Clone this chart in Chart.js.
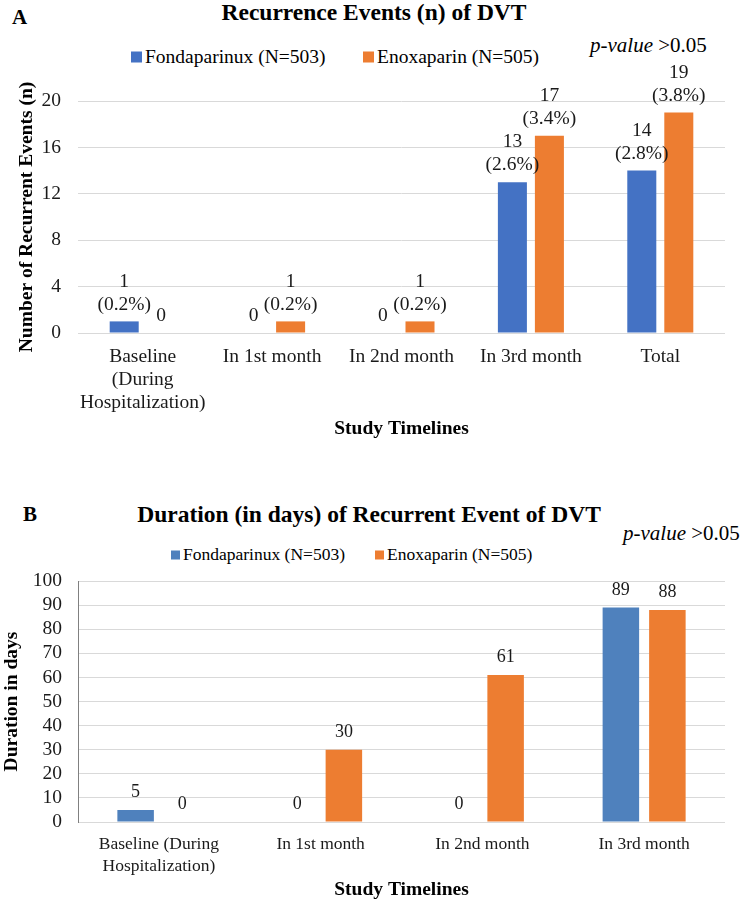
<!DOCTYPE html>
<html>
<head>
<meta charset="utf-8">
<title>Recurrent DVT events</title>
<script src="https://cdn.jsdelivr.net/npm/chart.js@4.4.1/dist/chart.umd.min.js"></script>
<style>
  body { margin: 0; background: #fff; font-family: 'Liberation Serif', 'Times New Roman', serif; color: #000; }
  #page { position: relative; width: 751px; height: 904px; overflow: hidden; }
  .txt { position: absolute; white-space: nowrap; line-height: 1; transform: translateY(-50%); }
  .mid { transform: translate(-50%, -50%); }
  .bold { font-weight: bold; }
  .sq { position: absolute; transform: translateY(-50%); }
  canvas { position: absolute; left: 0; }
</style>
</head>
<body>
<div id="page">
  <!-- panel A headings -->
  <div class="txt bold" style="left:12px; top:17px; font-size:21px;">A</div>
  <div class="txt bold mid" style="left:374px; top:13px; font-size:23.5px;">Recurrence Events (n) of DVT</div>
  <div class="txt" style="left:590px; top:45px; font-size:21px;"><i>p-value</i> &gt;0.05</div>
  <div class="sq" style="left:131px; top:57px; width:11px; height:11px; background:#4472C4;"></div>
  <div class="txt" style="left:145px; top:57px; font-size:19.5px;">Fondaparinux (N=503)</div>
  <div class="sq" style="left:363px; top:57px; width:11px; height:11px; background:#ED7D31;"></div>
  <div class="txt" style="left:377px; top:57px; font-size:19.5px;">Enoxaparin (N=505)</div>
  <canvas id="chartA" width="751" height="445" style="top:0;"></canvas>

  <!-- panel B headings -->
  <div class="txt bold" style="left:23px; top:514px; font-size:21px;">B</div>
  <div class="txt bold mid" style="left:369px; top:515px; font-size:23.5px;">Duration (in days) of Recurrent Event of DVT</div>
  <div class="txt" style="left:623px; top:533px; font-size:21px;"><i>p-value</i> &gt;0.05</div>
  <div class="sq" style="left:171px; top:555px; width:9px; height:9px; background:#4F81BD;"></div>
  <div class="txt" style="left:183px; top:555px; font-size:17.5px;">Fondaparinux (N=503)</div>
  <div class="sq" style="left:375px; top:555px; width:9px; height:9px; background:#ED7D31;"></div>
  <div class="txt" style="left:387px; top:555px; font-size:17.5px;">Enoxaparin (N=505)</div>
  <canvas id="chartB" width="751" height="444" style="top:460px;"></canvas>
</div>

<script>
// chart A: recurrence events
const timelinesA = [['Baseline', '(During', 'Hospitalization)'], 'In 1st month', 'In 2nd month', 'In 3rd month', 'Total'];
const fondaEvents = [1, 0, 0, 13, 14];
const enoxEvents = [0, 1, 1, 17, 19];
const fondaPct = ['(0.2%)', '', '', '(2.6%)', '(2.8%)'];
const enoxPct = ['', '(0.2%)', '(0.2%)', '(3.4%)', '(3.8%)'];
const ticksA = [0, 4, 8, 12, 16, 20];

// chart B: duration in days
const timelinesB = [['Baseline (During', 'Hospitalization)'], 'In 1st month', 'In 2nd month', 'In 3rd month'];
const fondaDays = [5, 0, 0, 89];
const enoxDays = [0, 30, 61, 88];
const ticksB = [0, 10, 20, 30, 40, 50, 60, 70, 80, 90, 100];

const FONT = "'Liberation Serif', 'Times New Roman', serif";
const INK = '#1a1a1a';

// draws value labels above each bar (no datalabels plugin available offline)
function barLabels(textFor, size, gap, lineH) {
    return {
        id: 'barLabels',
        afterDatasetsDraw(chart) {
            const ctx = chart.ctx;
            ctx.save();
            ctx.font = size + 'px ' + FONT;
            ctx.fillStyle = INK;
            ctx.textAlign = 'center';
            ctx.textBaseline = 'middle';
            chart.data.datasets.forEach((ds, i) => {
                chart.getDatasetMeta(i).data.forEach((bar, j) => {
                    const lines = textFor(i, j);
                    lines.forEach((t, k) => {
                        ctx.fillText(t, bar.x, bar.y - gap - (lines.length - 1 - k) * lineH);
                    });
                });
            });
            ctx.restore();
        }
    };
}

Chart.defaults.animation = false;
Chart.defaults.font.family = FONT;
Chart.defaults.color = INK;

new Chart(document.getElementById('chartA'), {
    type: 'bar',
    data: {
        labels: timelinesA,
        datasets: [
            { label: 'Fondaparinux (N=503)', data: fondaEvents, backgroundColor: '#4472C4' },
            { label: 'Enoxaparin (N=505)', data: enoxEvents, backgroundColor: '#ED7D31' }
        ]
    },
    options: {
        responsive: false,
        categoryPercentage: 0.572,
        barPercentage: 0.784,
        layout: { padding: { top: 101, right: 26, left: 0, bottom: 0 } },
        plugins: { legend: { display: false }, tooltip: { enabled: false } },
        scales: {
            x: {
                grid: { display: false, drawTicks: false },
                border: { display: false },
                ticks: { font: { size: 19.5, lineHeight: 1.18 }, color: INK, padding: 12.5, maxRotation: 0, autoSkip: false },
                title: { display: true, text: 'Study Timelines', color: '#000', font: { size: 19.5, weight: 'bold' }, padding: { top: 0, bottom: 4 } },
                afterFit: s => { s.height = 445 - 333; }
            },
            y: {
                min: ticksA[0],
                max: ticksA[ticksA.length - 1],
                ticks: { stepSize: ticksA[1] - ticksA[0], font: { size: 19.5 }, color: INK, padding: 17, autoSkip: false },
                grid: { color: '#d9d9d9', drawTicks: false },
                border: { display: false },
                title: { display: true, text: 'Number of Recurrent Events (n)', color: '#000', font: { size: 19.5, weight: 'bold' }, padding: { top: 15, bottom: 0 } },
                afterFit: s => { s.width = 78; }
            }
        }
    },
    plugins: [barLabels((i, j) => {
        const v = i === 0 ? fondaEvents[j] : enoxEvents[j];
        const p = i === 0 ? fondaPct[j] : enoxPct[j];
        return p ? [String(v), p] : [String(v)];
    }, 19.5, 17, 23)]
});

new Chart(document.getElementById('chartB'), {
    type: 'bar',
    data: {
        labels: timelinesB,
        datasets: [
            { label: 'Fondaparinux (N=503)', data: fondaDays, backgroundColor: '#4F81BD' },
            { label: 'Enoxaparin (N=505)', data: enoxDays, backgroundColor: '#ED7D31' }
        ]
    },
    options: {
        responsive: false,
        categoryPercentage: 0.575,
        barPercentage: 0.785,
        layout: { padding: { top: 121, right: 26, left: 0, bottom: 0 } },
        plugins: { legend: { display: false }, tooltip: { enabled: false } },
        scales: {
            x: {
                grid: { display: false, drawTicks: false },
                border: { display: false },
                ticks: { font: { size: 17.5, lineHeight: 1.257 }, color: INK, padding: 11, maxRotation: 0, autoSkip: false },
                title: { display: true, text: 'Study Timelines', color: '#000', font: { size: 19.5, weight: 'bold' }, padding: { top: 0, bottom: 2 } },
                afterFit: s => { s.height = 444 - 362; }
            },
            y: {
                min: ticksB[0],
                max: ticksB[ticksB.length - 1],
                afterBuildTicks: s => { s.ticks = ticksB.map(v => ({ value: v })); },
                ticks: { font: { size: 19.5, lineHeight: 1 }, color: INK, padding: 16, autoSkip: false },
                grid: { color: '#d9d9d9', drawTicks: false },
                border: { display: true, color: '#808080', width: 1 },
                title: { display: true, text: 'Duration in days', color: '#000', font: { size: 19.5, weight: 'bold' }, padding: { top: 0, bottom: 0 } },
                afterFit: s => { s.width = 78; }
            }
        }
    },
    plugins: [barLabels((i, j) => [String(i === 0 ? fondaDays[j] : enoxDays[j])], 18, 17.5, 22)]
});
</script>
</body>
</html>
